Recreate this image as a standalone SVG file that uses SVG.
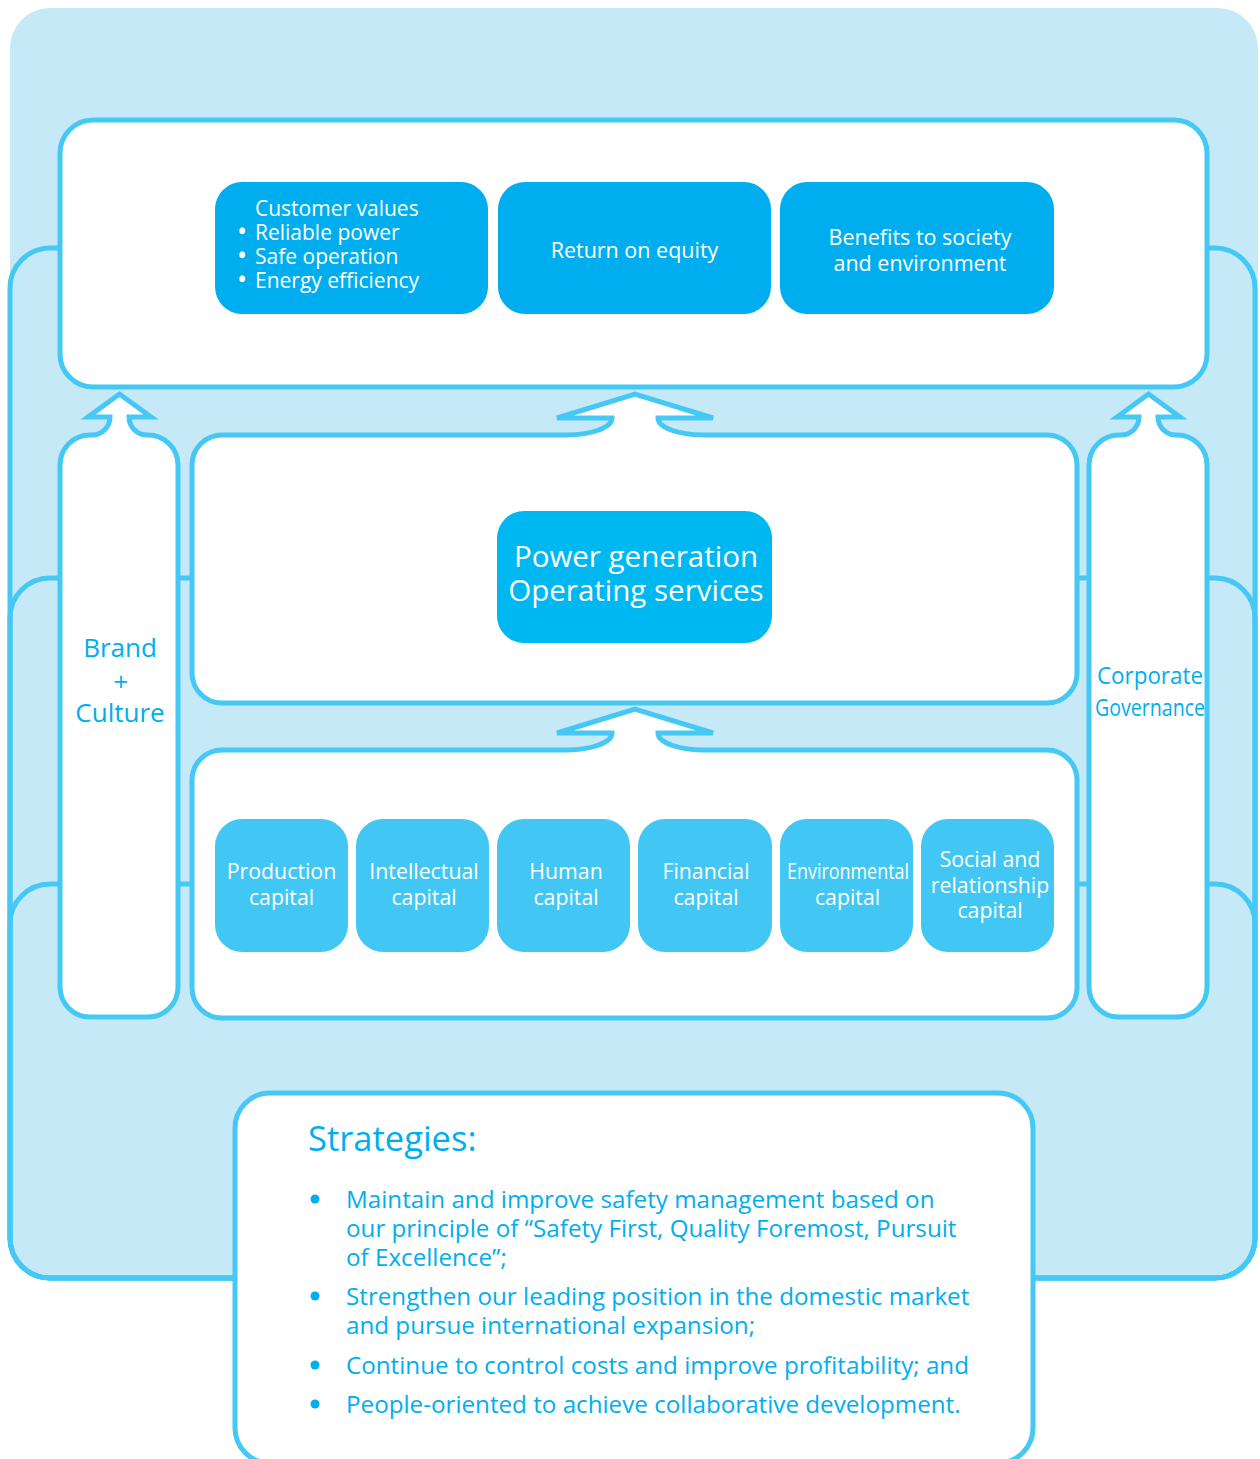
<svg xmlns="http://www.w3.org/2000/svg" width="1260" height="1459" viewBox="0 0 1260 1459">
  <style>
    .frame { fill: #ffffff; stroke: #45c8f4; stroke-width: 5; stroke-linejoin: miter; }
    .link { fill: none; stroke: #45c8f4; stroke-width: 5; }
    .outcome { fill: #00aeef; }
    .core { fill: #00b8f1; }
    .capital { fill: #42c7f4; }
    .w { fill: #ffffff; font-family: "Open Sans", "Noto Sans", "DejaVu Sans", sans-serif; }
    .b { fill: #00aeef; font-family: "Open Sans", "Noto Sans", "DejaVu Sans", sans-serif; }
    .mid { text-anchor: middle; }
  </style>
  <defs>
    <!-- side column with a small up-arrow on top -->
    <path id="column" d="M 60,987 V 465 A 30 30 0 0 1 90,435 H 92 A 18 18 0 0 0 110,417 L 88,417 L 119.5,394 L 151,417 L 129,417 A 18 18 0 0 0 147,435 H 148 A 30 30 0 0 1 178,465 V 987 A 30 30 0 0 1 148,1017 H 90 A 30 30 0 0 1 60,987 Z"/>
    <!-- wide panel with a large up-arrow in the middle of its top edge -->
    <path id="panel" d="M 222,435 H 567 A 45 17 0 0 0 612,418 L 557,418 L 635,394 L 713,418 L 658,418 A 45 17 0 0 0 703,435 H 1047 A 30 30 0 0 1 1077,465 V 673 A 30 30 0 0 1 1047,703 H 222 A 30 30 0 0 1 192,673 V 465 A 30 30 0 0 1 222,435 Z"/>
  </defs>

  <!-- light blue backdrop -->
  <rect x="10" y="8" width="1248" height="1270" rx="40" ry="40" fill="#c6e9f8"/>

  <!-- feedback loops and short links -->
  <g id="connectors">
    <path class="link" d="M 60,248 H 50 A 40 40 0 0 0 10,288 V 1238 A 40 40 0 0 0 50,1278 H 236"/>
    <path class="link" d="M 60,578 H 50 A 40 40 0 0 0 10,618 V 1238 A 40 40 0 0 0 50,1278 H 236"/>
    <path class="link" d="M 60,884 H 50 A 40 40 0 0 0 10,924 V 1238 A 40 40 0 0 0 50,1278 H 236"/>
    <path class="link" d="M 1207,248 H 1215 A 40 40 0 0 1 1255,288 V 1238 A 40 40 0 0 1 1215,1278 H 1032"/>
    <path class="link" d="M 1207,578 H 1215 A 40 40 0 0 1 1255,618 V 1238 A 40 40 0 0 1 1215,1278 H 1032"/>
    <path class="link" d="M 1207,884 H 1215 A 40 40 0 0 1 1255,924 V 1238 A 40 40 0 0 1 1215,1278 H 1032"/>
    <path class="link" d="M 178,578 H 192 M 178,884 H 192 M 1077,578 H 1089 M 1077,884 H 1089"/>
  </g>

  <!-- outcomes -->
  <g id="outcomes">
    <rect class="frame" x="60" y="120" width="1147" height="267" rx="33" ry="33"/>
    <g id="customer-values">
      <rect class="outcome" x="215" y="182" width="273" height="132" rx="27" ry="27"/>
      <text class="w" font-size="21">
        <tspan x="255" y="216">Customer values</tspan>
        <tspan x="237" y="241" font-size="27">•</tspan><tspan x="255" y="240">Reliable power</tspan>
        <tspan x="237" y="265" font-size="27">•</tspan><tspan x="255" y="264">Safe operation</tspan>
        <tspan x="237" y="289" font-size="27">•</tspan><tspan x="255" y="288">Energy efficiency</tspan>
      </text>
    </g>
    <g id="return-on-equity">
      <rect class="outcome" x="498" y="182" width="273" height="132" rx="27" ry="27"/>
      <text class="w mid" x="634.5" y="258" font-size="21.5">Return on equity</text>
    </g>
    <g id="benefits">
      <rect class="outcome" x="780" y="182" width="274" height="132" rx="27" ry="27"/>
      <text class="w mid" font-size="21.5"><tspan x="920" y="245">Benefits to society</tspan><tspan x="920" y="271">and environment</tspan></text>
    </g>
  </g>

  <!-- business -->
  <g id="business">
    <use href="#panel" class="frame"/>
    <rect class="core" x="497" y="511" width="275" height="132" rx="27" ry="27"/>
    <text class="w mid" font-size="29.5"><tspan x="636" y="567">Power generation</tspan><tspan x="636" y="601">Operating services</tspan></text>
  </g>

  <!-- capitals -->
  <g id="capitals">
    <use href="#panel" class="frame" transform="translate(0,315)"/>
    <g id="production-capital">
      <rect class="capital" x="215" y="819" width="133" height="133" rx="27" ry="27"/>
      <text class="w mid" font-size="21.3"><tspan x="281.5" y="879">Production</tspan><tspan x="281.5" y="905">capital</tspan></text>
    </g>
    <g id="intellectual-capital">
      <rect class="capital" x="356" y="819" width="133" height="133" rx="27" ry="27"/>
      <text class="w mid" font-size="21.3"><tspan x="424" y="879">Intellectual</tspan><tspan x="424" y="905">capital</tspan></text>
    </g>
    <g id="human-capital">
      <rect class="capital" x="497" y="819" width="133" height="133" rx="27" ry="27"/>
      <text class="w mid" font-size="21.3"><tspan x="566" y="879">Human</tspan><tspan x="566" y="905">capital</tspan></text>
    </g>
    <g id="financial-capital">
      <rect class="capital" x="638" y="819" width="134" height="133" rx="27" ry="27"/>
      <text class="w mid" font-size="21.3"><tspan x="706" y="879">Financial</tspan><tspan x="706" y="905">capital</tspan></text>
    </g>
    <g id="environmental-capital">
      <rect class="capital" x="780" y="819" width="133" height="133" rx="27" ry="27"/>
      <text class="w mid" font-size="21.3"><tspan x="848" y="879" textLength="122" lengthAdjust="spacingAndGlyphs">Environmental</tspan><tspan x="847.5" y="905">capital</tspan></text>
    </g>
    <g id="social-capital">
      <rect class="capital" x="921" y="819" width="133" height="133" rx="27" ry="27"/>
      <text class="w mid" font-size="21.3"><tspan x="990" y="867">Social and</tspan><tspan x="990" y="893">relationship</tspan><tspan x="990" y="918">capital</tspan></text>
    </g>
  </g>

  <!-- side columns -->
  <g id="brand-culture">
    <use href="#column" class="frame"/>
    <text class="b mid" font-size="26"><tspan x="120" y="657">Brand</tspan><tspan x="121" y="691">+</tspan><tspan x="120" y="722">Culture</tspan></text>
  </g>
  <g id="corporate-governance">
    <use href="#column" class="frame" transform="translate(1029,0)"/>
    <text class="b mid" font-size="24"><tspan x="1150" y="684" textLength="106" lengthAdjust="spacingAndGlyphs">Corporate</tspan><tspan x="1150" y="716" textLength="110" lengthAdjust="spacingAndGlyphs">Governance</tspan></text>
  </g>

  <!-- strategies -->
  <g id="strategies">
    <rect class="frame" x="235" y="1093" width="798" height="370" rx="35" ry="35"/>
    <text class="b" x="308" y="1151" font-size="34.5">Strategies:</text>
    <g fill="#00aeef">
      <circle cx="315" cy="1199" r="4.5"/>
      <circle cx="315" cy="1296" r="4.5"/>
      <circle cx="315" cy="1365" r="4.5"/>
      <circle cx="315" cy="1404" r="4.5"/>
    </g>
    <text class="b" font-size="24.2">
      <tspan x="346" y="1208">Maintain and improve safety management based on</tspan>
      <tspan x="346" y="1237">our principle of “Safety First, Quality Foremost, Pursuit</tspan>
      <tspan x="346" y="1266">of Excellence”;</tspan>
      <tspan x="346" y="1305">Strengthen our leading position in the domestic market</tspan>
      <tspan x="346" y="1334">and pursue international expansion;</tspan>
      <tspan x="346" y="1374">Continue to control costs and improve profitability; and</tspan>
      <tspan x="346" y="1413">People-oriented to achieve collaborative development.</tspan>
    </text>
  </g>
</svg>
